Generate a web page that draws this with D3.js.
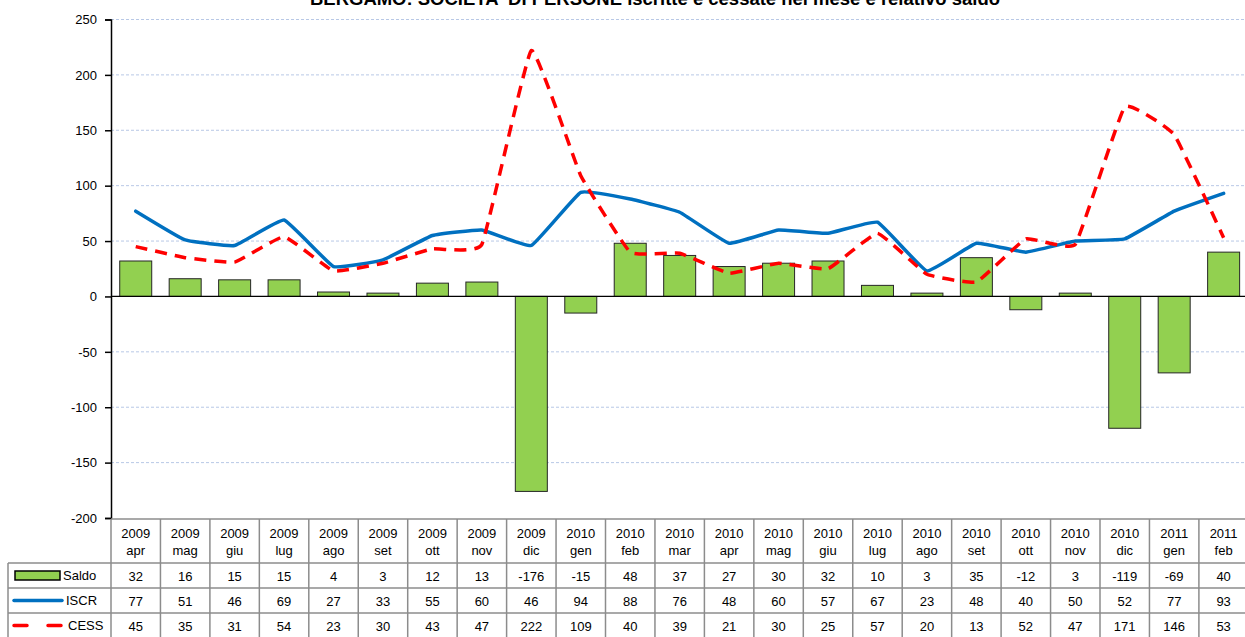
<!DOCTYPE html>
<html>
<head>
<meta charset="utf-8">
<script src="https://cdn.jsdelivr.net/npm/d3@7"></script>
<style>
  body { margin: 0; background: #fff; }
  text { font-family: "Liberation Sans", Arial, sans-serif; }
</style>
</head>
<body>
<div id="chart"></div>
<script>
// Data
const years = ["2009","2009","2009","2009","2009","2009","2009","2009","2009","2010","2010","2010","2010","2010","2010","2010","2010","2010","2010","2010","2010","2011","2011"];
const months = ["apr","mag","giu","lug","ago","set","ott","nov","dic","gen","feb","mar","apr","mag","giu","lug","ago","set","ott","nov","dic","gen","feb"];
const saldo = [32,16,15,15,4,3,12,13,-176,-15,48,37,27,30,32,10,3,35,-12,3,-119,-69,40];
const iscr = [77,51,46,69,27,33,55,60,46,94,88,76,48,60,57,67,23,48,40,50,52,77,93];
const cess = [45,35,31,54,23,30,43,47,222,109,40,39,21,30,25,57,20,13,52,47,171,146,53];
const yTicks = [-200,-150,-100,-50,0,50,100,150,200,250];

const W = 1245, H = 637;
const left = 111, colW = 49.45;
const keys = months.map((m, i) => i);

const svg = d3.select("#chart").append("svg")
    .attr("width", W)
    .attr("height", H);

// Scales
const x = d3.scaleBand()
    .domain(keys)
    .range([left, left + colW * keys.length])
    .padding(0);

const y = d3.scaleLinear()
    .domain([-200, 250])
    .range([518, 19.5]);

const cx = i => x(i) + x.bandwidth() / 2;

// Title (cut at top like the original)
svg.append("text")
    .attr("x", 655)
    .attr("y", 5)
    .attr("text-anchor", "middle")
    .attr("font-weight", "bold")
    .attr("font-size", 18)
    .attr("textLength", 690)
    .attr("lengthAdjust", "spacingAndGlyphs")
    .text("BERGAMO: SOCIETA' DI PERSONE iscritte e cessate nel mese e relativo saldo");

// Gridlines
svg.append("g")
    .selectAll("line")
    .data(yTicks.filter(d => d !== 0 && d !== -200))
    .join("line")
    .attr("x1", left)
    .attr("x2", W)
    .attr("y1", d => y(d))
    .attr("y2", d => y(d))
    .attr("stroke", "#b8c8e6")
    .attr("stroke-width", 1)
    .attr("stroke-dasharray", "3,2");

// Y axis
const yAxis = d3.axisLeft(y)
    .tickValues(yTicks)
    .tickFormat(d => String(d))
    .tickSize(6)
    .tickPadding(8);

const yg = svg.append("g")
    .attr("transform", "translate(" + left + ",0)")
    .call(yAxis);
yg.select(".domain").attr("stroke", "#000").attr("stroke-width", 1.5);
yg.selectAll(".tick line").attr("stroke", "#000").attr("stroke-width", 1.5);
yg.selectAll(".tick text")
    .attr("font-size", 13)
    .attr("font-family", "Liberation Sans, Arial, sans-serif")
    .attr("fill", "#000");

// Bars
const barW = 32;
svg.append("g")
    .selectAll("rect")
    .data(saldo)
    .join("rect")
    .attr("x", (d, i) => cx(i) - barW / 2)
    .attr("y", d => y(Math.max(0, d)))
    .attr("width", barW)
    .attr("height", d => Math.abs(y(d) - y(0)))
    .attr("fill", "#92d050")
    .attr("stroke", "#262626")
    .attr("stroke-width", 1);

// Zero line
svg.append("line")
    .attr("x1", left)
    .attr("x2", W)
    .attr("y1", y(0))
    .attr("y2", y(0))
    .attr("stroke", "#000")
    .attr("stroke-width", 1.2);

// Lines (Excel smoothing is very mild)
const line = d3.line()
    .x((d, i) => cx(i))
    .y(d => y(d))
    .curve(d3.curveCardinal.tension(0.7));

svg.append("path")
    .datum(iscr)
    .attr("d", line)
    .attr("fill", "none")
    .attr("stroke", "#0070c0")
    .attr("stroke-width", 3.5)
    .attr("stroke-linecap", "round");

svg.append("path")
    .datum(cess)
    .attr("d", line)
    .attr("fill", "none")
    .attr("stroke", "#ff0000")
    .attr("stroke-width", 3.5)
    .attr("stroke-dasharray", "12,8");

// Data table
const tableTop = 519, headH = 44, rowH = 25;
const rowsTop = tableTop + headH;
const right = left + colW * keys.length;
const grid = svg.append("g")
    .attr("stroke", "#8c8c8c")
    .attr("stroke-width", 1.5);

// horizontal lines
grid.append("line").attr("x1", left).attr("x2", right).attr("y1", tableTop).attr("y2", tableTop);
[0, 1, 2, 3].forEach(r => {
    grid.append("line")
        .attr("x1", 8).attr("x2", right)
        .attr("y1", rowsTop + r * rowH).attr("y2", rowsTop + r * rowH);
});
// vertical lines
grid.append("line").attr("x1", 8).attr("x2", 8).attr("y1", rowsTop).attr("y2", H);
keys.forEach(i => {
    grid.append("line")
        .attr("x1", x(i)).attr("x2", x(i))
        .attr("y1", tableTop).attr("y2", H);
});

// header labels
const head = svg.append("g")
    .attr("font-size", 13)
    .attr("text-anchor", "middle");
head.selectAll(".yr")
    .data(years)
    .join("text")
    .attr("x", (d, i) => cx(i))
    .attr("y", 538)
    .text(d => d);
head.selectAll(".mo")
    .data(months)
    .join("text")
    .attr("x", (d, i) => cx(i))
    .attr("y", 555)
    .text(d => d);

// value rows
const series = [saldo, iscr, cess];
series.forEach((s, r) => {
    svg.append("g")
        .attr("font-size", 13)
        .attr("text-anchor", "middle")
        .selectAll("text")
        .data(s)
        .join("text")
        .attr("x", (d, i) => cx(i))
        .attr("y", rowsTop + r * rowH + 17.5)
        .text(d => d);
});

// legend keys
svg.append("rect")
    .attr("x", 15).attr("y", 571)
    .attr("width", 45).attr("height", 9)
    .attr("fill", "#92d050")
    .attr("stroke", "#000")
    .attr("stroke-width", 1.5);
svg.append("line")
    .attr("x1", 14).attr("x2", 62)
    .attr("y1", 600.5).attr("y2", 600.5)
    .attr("stroke", "#0070c0")
    .attr("stroke-width", 3.5)
    .attr("stroke-linecap", "round");
svg.append("line")
    .attr("x1", 14).attr("x2", 61)
    .attr("y1", 625.5).attr("y2", 625.5)
    .attr("stroke", "#ff0000")
    .attr("stroke-width", 3.5)
    .attr("stroke-linecap", "round")
    .attr("stroke-dasharray", "13,21");

const legNames = ["Saldo", "ISCR", "CESS"];
svg.append("g")
    .attr("font-size", 13)
    .selectAll("text")
    .data(legNames)
    .join("text")
    .attr("x", (d, i) => [63, 66, 68][i])
    .attr("y", (d, i) => rowsTop + i * rowH + 17)
    .text(d => d);
</script>
</body>
</html>
